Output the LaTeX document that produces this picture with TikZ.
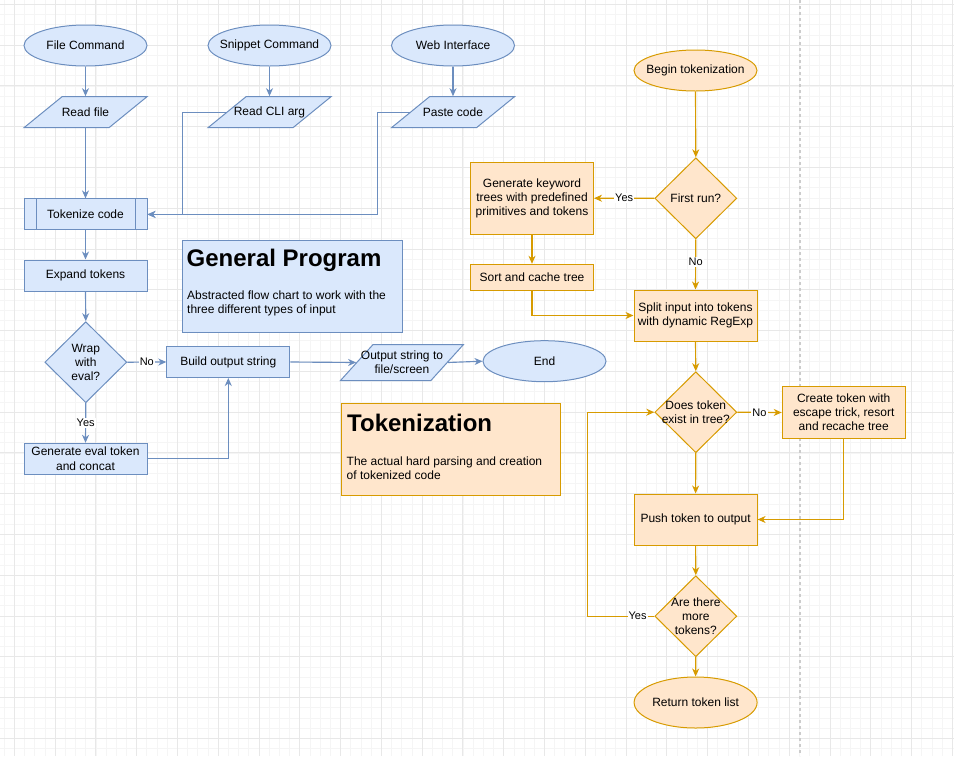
\documentclass[tikz,border=0pt]{standalone}
\usepackage{fontspec}
\setmainfont{Liberation Sans}
\usetikzlibrary{shapes.geometric,arrows.meta}

\definecolor{bfill}{HTML}{DAE8FC}
\definecolor{bline}{HTML}{6C8EBF}
\definecolor{ofill}{HTML}{FFE6CC}
\definecolor{oline}{HTML}{D79B00}

\tikzset{
  gridminor/.style={black!4, line width=0.7pt},
  gridmajor/.style={black!9, line width=0.8pt},
  sepline/.style={black!20, line width=1.6pt, dash pattern=on 3pt off 3pt},
  txt/.style={font=\fontsize{12}{14.2}\selectfont, align=center, inner sep=0pt},
  gpshape/.style={draw=bline, fill=bfill, line width=1pt},
  tkshape/.style={draw=oline, fill=ofill, line width=1pt},
  proc/.style={rectangle, minimum width=123pt, minimum height=31pt, inner sep=1pt, txt},
  term/.style={ellipse, minimum width=123pt, minimum height=41pt, inner sep=0pt},
  io/.style={trapezium, trapezium left angle=51, trapezium right angle=129,
    trapezium stretches=true, minimum width=123pt, minimum height=31pt, inner sep=0.5pt},
  decide/.style={diamond, minimum width=82pt, minimum height=81pt, inner sep=0pt},
  barrow/.style={draw=bline, line width=1.15pt, -{Stealth[length=8pt,width=7pt,inset=2.5pt]}},
  oarrow/.style={draw=oline, line width=1.15pt, -{Stealth[length=8pt,width=7pt,inset=2.5pt]}},
  elabel/.style={fill=white, font=\fontsize{11}{13}\selectfont, inner sep=1pt},
  notetitle/.style={font=\fontsize{24}{28}\selectfont\bfseries, inner sep=0pt},
  notebody/.style={font=\fontsize{12}{14}\selectfont, align=left, inner sep=0pt}
}

\begin{document}
\begin{tikzpicture}[x=1pt, y=-1pt]
\useasboundingbox (0,0) rectangle (954,756);

% background grid
\foreach \k in {0,...,93}
  \draw[gridminor] ({4.1+10.195*\k},0) -- ({4.1+10.195*\k},756);
\foreach \k in {0,...,74}
  \draw[gridminor] (0,{-5.9+10.195*\k}) -- (954,{-5.9+10.195*\k});
\foreach \k in {0,...,23}
  \draw[gridmajor] ({14.3+40.78*\k},0) -- ({14.3+40.78*\k},756);
\foreach \k in {0,...,18}
  \draw[gridmajor] (0,{4.3+40.78*\k}) -- (954,{4.3+40.78*\k});
\draw[sepline] (800,0) -- (800,756);

% general program
\node[gpshape, term, label={[txt]center:File Command}] (filecmd) at (85.5,45.5) {};
\node[gpshape, term, label={[txt]center:Snippet Command}] (snipcmd) at (269.5,45.5) {};
\node[gpshape, term, label={[txt]center:Web Interface}] (webui) at (453,45.5) {};
\node[gpshape, io, label={[txt]center:Read file}] (readfile) at (85.5,112.2) {};
\node[gpshape, io, label={[txt]center:Read CLI arg}] (readcli) at (269.5,112.2) {};
\node[gpshape, io, label={[txt]center:Paste code}] (paste) at (453,112.2) {};
\node[gpshape, proc] (tokenize) at (85.5,214.4) {Tokenize code};
\draw[bline, line width=1pt] ([xshift=12.5pt]tokenize.north west) -- ([xshift=12.5pt]tokenize.south west);
\draw[bline, line width=1pt] ([xshift=-12.5pt]tokenize.north east) -- ([xshift=-12.5pt]tokenize.south east);
\node[gpshape, proc] (expand) at (85.5,275.5) {Expand tokens};
\node[gpshape, decide, label={[txt]center:Wrap\\with\\eval?}] (wrap) at (85.8,362.2) {};
\node[gpshape, proc] (geneval) at (85.5,458.8) {Generate eval token\\and concat};
\node[gpshape, proc] (build) at (228.3,362) {Build output string};
\node[gpshape, io, trapezium left angle=60.6, trapezium right angle=119.4,
  minimum height=36pt, label={[txt]center:Output string to\\file/screen}] (outstr) at (402,362.5) {};
\node[gpshape, term, label={[txt]center:End}] (endnode) at (544.5,361.2) {};

% notes
\node[gpshape, rectangle, anchor=north west, minimum width=220pt, minimum height=91.7pt, inner sep=0pt] (gpnote) at (182.3,240) {};
\node[notetitle, anchor=base west] (gptitle) at (186.5,266.7) {General Program};
\node[notebody, anchor=west] (gpbody) at (187,303.7) {Abstracted flow chart to work with the\\three different types of input};
\node[tkshape, rectangle, anchor=north west, minimum width=219.6pt, minimum height=92.3pt, inner sep=0pt] (tknote) at (340.7,402.7) {};
\node[notetitle, anchor=base west] (tktitle) at (347,431) {Tokenization};
\node[notebody, anchor=west] (tkbody) at (346.5,467.8) {The actual hard parsing and creation\\of tokenized code};

% tokenization
\node[tkshape, term, label={[txt]center:Begin tokenization}] (begin) at (695.5,70.5) {};
\node[tkshape, decide, label={[txt]center:First run?}] (firstrun) at (695.8,198.3) {};
\node[tkshape, proc, minimum height=72pt] (keyword) at (532,198.2) {Generate keyword\\trees with predefined\\primitives and tokens};
\node[tkshape, proc, minimum height=26pt] (sortc) at (532,277.3) {Sort and cache tree};
\node[tkshape, proc, minimum height=51pt] (split) at (695.5,315.5) {Split input into tokens\\with dynamic RegExp};
\node[tkshape, decide, label={[txt]center:Does token\\exist in tree?}] (exist) at (695.8,412.2) {};
\node[tkshape, proc, minimum height=52pt] (create) at (843.7,412.5) {Create token with\\escape trick, resort\\and recache tree};
\node[tkshape, proc, minimum height=51pt] (push) at (695.6,519.5) {Push token to output};
\node[tkshape, decide, label={[txt]center:Are there\\more\\tokens?}] (more) at (695.8,616.2) {};
\node[tkshape, term, minimum height=51pt, label={[txt]center:Return token list}] (retlist) at (695.6,702.5) {};

% general program arrows
\draw[barrow] (filecmd.south) -- (readfile.north);
\draw[barrow] (snipcmd.south) -- (readcli.north);
\draw[barrow] (webui.south) -- (paste.north);
\draw[barrow] (readfile.south) -- (tokenize.north);
\draw[barrow] (readcli.left side) -- ++(-44,0) |- (tokenize.east);
\draw[barrow] (paste.left side) -- ++(-32.6,0) |- (tokenize.east);
\draw[barrow] (tokenize.south) -- (expand.north);
\draw[barrow] (expand.south) -- (wrap.north);
\draw[barrow] (wrap.east) -- node[elabel] {No} (build.west);
\draw[barrow] (wrap.south) -- node[elabel] {Yes} (geneval.north);
\draw[barrow] (geneval.east) -| (build.south);
\draw[barrow] (build.east) -- (outstr.left side);
\draw[barrow] (outstr.right side) -- (endnode.west);

% tokenization arrows
\draw[oarrow] (begin.south) -- (firstrun.north);
\draw[oarrow] (firstrun.west) -- node[elabel] {Yes} (keyword.east);
\draw[oarrow] (firstrun.south) -- node[elabel, pos=0.45] {No} (split.north);
\draw[oarrow] (keyword.south) -- (sortc.north);
\draw[oarrow] (sortc.south) |- (split.west);
\draw[oarrow] (split.south) -- (exist.north);
\draw[oarrow] (exist.east) -- node[elabel] {No} (create.west);
\draw[oarrow] (exist.south) -- (push.north);
\draw[oarrow] (create.south) |- (push.east);
\draw[oarrow] (push.south) -- (more.north);
\draw[oarrow] (more.west) -- node[elabel, pos=0.25] {Yes} ++(-66.7,0) |- (exist.west);
\draw[oarrow] (more.south) -- (retlist.north);
\end{tikzpicture}
\end{document}
